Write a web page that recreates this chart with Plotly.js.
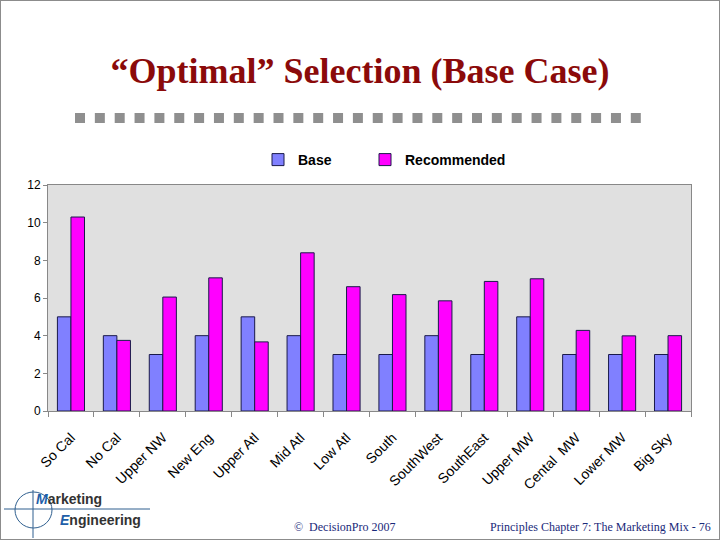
<!DOCTYPE html>
<html>
<head>
<meta charset="utf-8">
<script src="https://cdn.plot.ly/plotly-3.0.1.min.js"></script>
<style>
  html, body { margin: 0; padding: 0; background: #fff; }
  #wrap { position: relative; width: 720px; height: 540px; }
  #chart { width: 720px; height: 540px; }
  #frame { position: absolute; left: 0; top: 0; width: 718px; height: 538px; border: 1px solid #8c8c8c; pointer-events: none; }
</style>
</head>
<body>
<div id="wrap">
  <div id="chart"></div>
  <div id="frame"></div>
</div>
<script>
const regions = ["So Cal", "No Cal", "Upper NW", "New Eng", "Upper Atl", "Mid Atl", "Low Atl",
                 "South", "SouthWest", "SouthEast", "Upper MW", "Cental  MW", "Lower MW", "Big Sky"];
const baseValues = [5, 4, 3, 4, 5, 4, 3, 3, 4, 3, 5, 3, 3, 3];
const recommendedValues = [10.3, 3.75, 6.05, 7.07, 3.67, 8.4, 6.6, 6.18, 5.85, 6.88, 7.02, 4.28, 3.99, 4.0];
const yTicks = [0, 2, 4, 6, 8, 10, 12];

const traces = [
  { type: "bar", name: "<b>Base</b>", x: regions, y: baseValues, legend: "legend",
    marker: { color: "#8080ff", line: { color: "#1a1a4a", width: 1 } } },
  { type: "bar", name: "<b>Recommended</b>", x: regions, y: recommendedValues, legend: "legend2",
    marker: { color: "#ff00ff", line: { color: "#1a1a4a", width: 1 } } }
];

// decorative dotted row of squares under the title
const shapes = [];
const pw = 720 - 48 - 29, ph = 540 - 185 - 129;
function px(x) { return (x - 48) / pw; }
function py(y) { return (540 - 129 - y) / ph; }
for (let i = 0; i < 29; i++) {
  const x0 = 75 + i * 19.85;
  shapes.push({ type: "rect", xref: "paper", yref: "paper",
    x0: px(x0), x1: px(x0 + 10), y0: py(113), y1: py(123),
    fillcolor: "#8f8f8f", line: { width: 0 }, layer: "above" });
}
// logo: crosshair with ellipse
shapes.push({ type: "line", xref: "paper", yref: "paper", x0: px(4), x1: px(150), y0: py(509), y1: py(509), line: { color: "#2f5f8f", width: 1 } });
shapes.push({ type: "line", xref: "paper", yref: "paper", x0: px(33), x1: px(33), y0: py(490), y1: py(538), line: { color: "#2f5f8f", width: 1 } });
shapes.push({ type: "circle", xref: "paper", yref: "paper", x0: px(15), x1: px(52), y0: py(492), y1: py(528), line: { color: "#2f5f8f", width: 1 } });

const annotations = [
  { text: "<b><i><span style='color:#1f5fa8'>M</span></i>arketing</b>", xref: "paper", yref: "paper",
    x: px(34), y: py(499), xanchor: "left", yanchor: "middle", showarrow: false,
    font: { family: "Arial", size: 14, color: "#333" } },
  { text: "<b><i><span style='color:#1f5fa8'>E</span></i>ngineering</b>", xref: "paper", yref: "paper",
    x: px(58), y: py(520), xanchor: "left", yanchor: "middle", showarrow: false,
    font: { family: "Arial", size: 14, color: "#333" } },
  { text: "©  DecisionPro 2007", xref: "paper", yref: "paper",
    x: px(292), y: py(527), xanchor: "left", yanchor: "middle", showarrow: false,
    font: { family: "Liberation Serif, Times New Roman", size: 12, color: "#1a2a7a" } },
  { text: "Principles Chapter 7: The Marketing Mix - 76", xref: "paper", yref: "paper",
    x: px(713), y: py(527), xanchor: "right", yanchor: "middle", showarrow: false,
    font: { family: "Liberation Serif, Times New Roman", size: 12, color: "#1a2a7a" } }
];

const legendCommon = { orientation: "h", xanchor: "left", y: py(160), yanchor: "middle",
  font: { family: "Arial", size: 14, color: "#000" }, itemwidth: 30, bgcolor: "rgba(0,0,0,0)" };

const layout = {
  width: 720, height: 540,
  margin: { l: 48, r: 29, t: 185, b: 129 },
  paper_bgcolor: "#ffffff",
  plot_bgcolor: "#e0e0e0",
  title: { text: "<b>“Optimal” Selection (Base Case)</b>", x: 0.5, xanchor: "center",
           y: 1 - 70 / 540, yref: "container", yanchor: "middle",
           font: { family: "Liberation Serif, Times New Roman", size: 36, color: "#8b0a0a" } },
  barmode: "group", bargap: 0.41, bargroupgap: 0,
  showlegend: true,
  legend: Object.assign({}, legendCommon, { x: px(258) }),
  legend2: Object.assign({}, legendCommon, { x: px(365) }),
  xaxis: { type: "category", tickangle: -45, ticks: "outside", ticklen: 5, tickcolor: "#888",
           tickson: "boundaries", showline: true, linecolor: "#888", linewidth: 1, mirror: true,
           ticklabelstandoff: 12,
           showgrid: false, tickfont: { family: "Arial", size: 14, color: "#000" } },
  yaxis: { range: [0, 12], tickvals: yTicks, ticks: "outside", ticklen: 4, tickcolor: "#888",
           showline: true, linecolor: "#888", mirror: true, showgrid: false, zeroline: false,
           tickfont: { family: "Arial", size: 12, color: "#000" } },
  shapes: shapes,
  annotations: annotations
};

Plotly.newPlot("chart", traces, layout, { displayModeBar: false, staticPlot: true });
</script>
</body>
</html>
